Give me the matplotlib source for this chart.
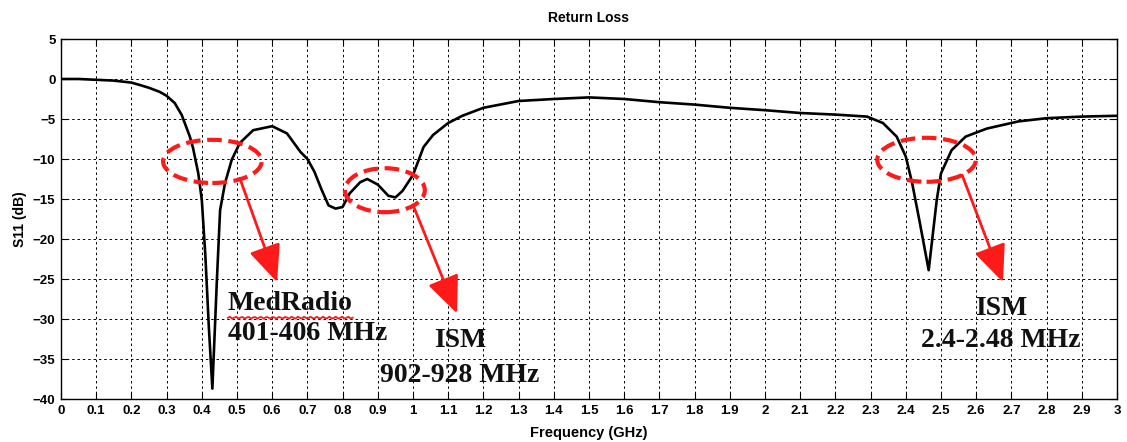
import numpy as np
import matplotlib
matplotlib.use("Agg")
import matplotlib.pyplot as plt
from matplotlib.patches import Ellipse, FancyArrowPatch
from matplotlib.lines import Line2D

# ---- data ----
freq_ghz = [0.00, 0.05, 0.10, 0.15, 0.20, 0.224, 0.25, 0.28, 0.30, 0.323, 0.343,
            0.366, 0.375, 0.39, 0.40, 0.41, 0.42, 0.43, 0.443, 0.452, 0.466,
            0.485, 0.508, 0.546, 0.60, 0.642, 0.68, 0.70, 0.72, 0.74, 0.76,
            0.78, 0.80, 0.82, 0.85, 0.87, 0.90, 0.93, 0.95, 0.97, 1.00, 1.03,
            1.057, 1.10, 1.14, 1.20, 1.30, 1.40, 1.50, 1.60, 1.70, 1.80, 1.90,
            2.00, 2.10, 2.20, 2.29, 2.335, 2.374, 2.40, 2.418, 2.44, 2.465,
            2.488, 2.50, 2.53, 2.57, 2.63, 2.72, 2.80, 2.90, 3.00]
s11_db = [0.0, 0.0, -0.1, -0.2, -0.45, -0.75, -1.1, -1.6, -2.1, -3.0, -4.5,
          -7.2, -8.6, -11.8, -15.1, -22.0, -31.0, -38.7, -25.0, -16.4, -13.0,
          -10.1, -8.0, -6.4, -5.9, -6.8, -9.1, -10.0, -11.6, -13.8, -15.8,
          -16.2, -16.0, -14.3, -12.9, -12.5, -13.2, -14.6, -14.8, -14.0,
          -12.0, -8.5, -7.0, -5.5, -4.6, -3.6, -2.75, -2.5, -2.3, -2.5, -2.9,
          -3.2, -3.6, -3.9, -4.25, -4.45, -4.7, -5.5, -7.2, -9.7, -13.0,
          -18.0, -23.9, -15.1, -11.8, -8.9, -7.2, -6.2, -5.3, -4.9, -4.7, -4.6]

x_ticks = [round(0.1 * i, 1) for i in range(31)]
x_tick_labels = ["0"] + [f"{v:g}" for v in x_ticks[1:]]
y_ticks = list(range(-40, 6, 5))

# band annotations: ellipse centre (GHz, dB), width, height
ellipses = [((0.43, -10.3), 0.28, 5.4),
            ((0.92, -13.9), 0.227, 5.5),
            ((2.459, -10.1), 0.28, 5.5)]
arrows = [((0.508, -12.4), (0.614, -25.4)),
          ((1.0, -15.75), (1.125, -29.3)),
          ((2.56, -12.0), (2.676, -25.4))]

plt.rcParams['font.family'] = ['Liberation Sans', 'DejaVu Sans']

fig = plt.figure(figsize=(11.27, 4.42), dpi=100)
ax = fig.add_axes([61 / 1127, 43 / 442, (1117 - 61) / 1127, (399 - 39) / 442])

ax.plot(freq_ghz, s11_db, color='black', linewidth=1.9, zorder=3)

ax.set_xlim(0, 3)
ax.set_ylim(-40, 5)
ax.set_xticks(x_ticks)
ax.set_xticklabels(x_tick_labels)
ax.set_yticks(y_ticks)
ax.tick_params(direction='in', top=True, right=True, length=5, width=0.8,
               labelsize=9.5, pad=4)
for lab in ax.get_xticklabels() + ax.get_yticklabels():
    lab.set_fontweight('bold')
ax.grid(True, color='black', linestyle=(0, (2.5, 3)), linewidth=0.7)
for s in ax.spines.values():
    s.set_linewidth(1.0)

ax.set_title("Return Loss", fontsize=10, fontweight='bold', pad=12)
ax.set_xlabel("Frequency (GHz)", fontsize=10.5, fontweight='bold', labelpad=7)
ax.set_ylabel("S11 (dB)", fontsize=10, fontweight='bold', labelpad=4)

red = '#ff1a1a'
for (c, w, h) in ellipses:
    e = Ellipse(c, w, h, fill=False, edgecolor=red, linewidth=3.0,
                linestyle=(0, (3.5, 1.6)), zorder=4)
    ax.add_patch(e)
for (p0, p1) in arrows:
    a = FancyArrowPatch(p0, p1, arrowstyle='-|>,head_length=23,head_width=10',
                        mutation_scale=1, color=red, linewidth=2.0,
                        shrinkA=0, shrinkB=0, zorder=4)
    ax.add_patch(a)

serif = ['Liberation Serif', 'DejaVu Serif']
tkw = dict(family=serif, fontweight='bold', fontsize=20, color='#111111',
           va='baseline', zorder=5)
t_med = ax.text(0.474, -28.9, "MedRadio", ha='left', **tkw)
ax.text(0.474, -32.6, "401-406 MHz", ha='left', **tkw)
ax.text(1.134, -33.5, "ISM", ha='center', **tkw)
ax.text(1.134, -37.9, "902-928 MHz", ha='center', **tkw)
ax.text(2.67, -29.5, "ISM", ha='center', **tkw)
ax.text(2.67, -33.5, "2.4-2.48 MHz", ha='center', **tkw)

# red wavy underline under "MedRadio"
fig.canvas.draw()
bb = t_med.get_window_extent()
xs = np.linspace(bb.x0, bb.x1, 60)
ys = (bb.y0 - 1.5) + 1.0 * np.sin(np.linspace(0, 40 * np.pi, 60))
ax.add_line(Line2D(xs, ys, color=red, linewidth=1.3, transform=None, zorder=5))

fig.savefig("out.png", dpi=100)
